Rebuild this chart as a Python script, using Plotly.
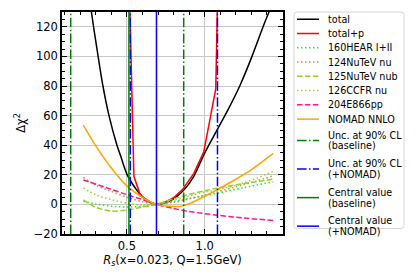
import plotly.graph_objects as go

# ---------------- data ----------------
rs_total = [0.22, 0.272, 0.315, 0.346, 0.385, 0.436, 0.459, 0.50, 0.561, 0.60, 0.65, 0.69,
            0.75, 0.80, 0.86, 0.93, 0.994, 1.078, 1.15, 1.225, 1.30, 1.375, 1.413, 1.44]
chi2_total = [172, 130, 100, 80, 60, 40, 33, 20.5, 10, 5, 1.3, 0,
              1.2, 3.8, 9, 19, 33.5, 50, 64, 80, 99, 120, 130, 137]

rs_totalp = [0.50, 0.545, 0.582, 0.60, 0.65, 0.69, 0.75, 0.80, 0.857, 0.93, 0.994, 1.071, 1.10]
chi2_totalp = [215, 19, 7.5, 5.2, 1.5, 0, 1.8, 4.5, 10, 21, 35.5, 78, 235]

rs_exp = [0.22, 0.30, 0.40, 0.50, 0.60, 0.69, 0.80, 0.90, 1.00, 1.08, 1.25, 1.44]
chi2_hera = [2.2, 0.3, -1.2, -1.8, -1.3, 0, 2, 4, 5.9, 7.6, 11.3, 15.2]
chi2_nutev_nu = [18.3, 13, 8.8, 4.8, 1.8, 0, 1.5, 3.7, 6.3, 8.5, 13.3, 19.3]
chi2_nutev_nub = [3, -2, -4.5, -3.8, -1.8, 0, 3.8, 6.8, 9.2, 11, 14, 17]
chi2_ccfr = [11.2, 6.5, 3.2, 0.8, -0.4, 0, 3, 5.8, 8.3, 9.8, 14.5, 22.3]

rs_e866 = [0.22, 0.39, 0.50, 0.60, 0.69, 0.80, 0.90, 1.08, 1.25, 1.44]
chi2_e866 = [16.5, 10.5, 6.6, 3.3, 0, -2.8, -4.8, -7.3, -9.2, -10.8]

rs_nomad = [0.22, 0.30, 0.39, 0.50, 0.60, 0.69, 0.78, 0.86, 0.95, 1.0, 1.08, 1.2, 1.30, 1.44]
chi2_nomad = [53.5, 39.5, 26, 12.5, 4.8, 0, -1.3, -1, 2.8, 5.5, 10, 17, 23.5, 34.5]

unc_baseline = [0.139, 0.865]
unc_nomad = [0.522, 1.082]
central_baseline = [0.513]
central_nomad = [0.69]

x_tickvals = [0.5, 1.0]
x_ticktext = ["0.5", "1.0"]

legend_labels = ["total", "total+p", "160HEAR I+II", "124NuTeV nu", "125NuTeV nub",
                 "126CCFR nu", "204E866pp", "NOMAD NNLO",
                 "Unc. at 90% CL<br>(baseline)", "Unc. at 90% CL<br>(+NOMAD)",
                 "Central value<br>(baseline)", "Central value<br>(+NOMAD)"]

# ---------------- styles ----------------
FONT = "DejaVu Sans"
LW = 1.5
DOT = "1.5px,2.5px"
DASH = "5.5px,2.4px"
DASHDOT = "9.6px,2.4px,1.5px,2.4px"

series = [
    (rs_total, chi2_total, "black", "solid", "spline"),
    (rs_totalp, chi2_totalp, "red", "solid", "linear"),
    (rs_exp, chi2_hera, "#00ff00", DOT, "spline"),
    (rs_exp, chi2_nutev_nu, "#d08a4c", DOT, "spline"),
    (rs_exp, chi2_nutev_nub, "#9acd32", DASH, "spline"),
    (rs_exp, chi2_ccfr, "#9acd32", DOT, "spline"),
    (rs_e866, chi2_e866, "#ff1493", DASH, "spline"),
    (rs_nomad, chi2_nomad, "#ffa500", "solid", "spline"),
]
vstyles = [
    (unc_baseline, "green", DASHDOT),
    (unc_nomad, "blue", DASHDOT),
    (central_baseline, "green", "solid"),
    (central_nomad, "blue", "solid"),
]

fig = go.Figure()
for xs, ys, col, dash, shape in series:
    fig.add_trace(go.Scatter(x=xs, y=ys, mode="lines",
                             line=dict(color=col, width=LW, dash=dash, shape=shape, smoothing=0.8),
                             showlegend=False, hoverinfo="skip"))

for xs, col, dash in vstyles:
    for xv in xs:
        fig.add_vline(x=xv, line=dict(color=col, width=LW, dash=dash), layer="above")

# ---------------- layout ----------------
# the page body has an 8px margin, so the figure is placed at (8, 8) in the window
OFF = 8
W, H = 404, 264
ML, MT = 62 - OFF, 10 - OFF
PR, PB = 283 - OFF, 234 - OFF
MR, MB = W - PR, H - PB
PW = PR - ML
PH = PB - MT


def px(x):
    return (x - OFF - ML) / PW


def py(y):
    return (PB - (y - OFF)) / PH


axis_common = dict(
    showline=True, linecolor="black", linewidth=1.5, mirror="allticks",
    ticks="inside", ticklen=5, tickwidth=1, tickcolor="black",
    showgrid=True, gridcolor="#c8c8c8", gridwidth=1.2, zeroline=False,
    tickfont=dict(family=FONT, size=11.5, color="black"),
)

fig.update_layout(
    width=W, height=H,
    margin=dict(l=ML, r=MR, t=MT, b=MB),
    paper_bgcolor="white", plot_bgcolor="white",
    showlegend=False,
    font=dict(family=FONT, color="black"),
    xaxis=dict(range=[0.083, 1.503], tickmode="array", tickvals=x_tickvals, ticktext=x_ticktext,
               minor=dict(tickmode="linear", dtick=0.1, tick0=0, ticks="inside", ticklen=3,
                          tickcolor="black", showgrid=False),
               title=dict(text="<i>R<sub>s</sub></i>(x=0.023, Q=1.5GeV)",
                          font=dict(family=FONT, size=11.5), standoff=4),
               **axis_common),
    yaxis=dict(range=[-20, 130], tick0=0, dtick=20,
               minor=dict(dtick=5, tick0=0, ticks="inside", ticklen=3, tickcolor="black", showgrid=False),
               title=dict(text="Δχ<sup>2</sup>", font=dict(family=FONT, size=11.5), standoff=6),
               **axis_common),
)

# ---------------- manual legend (reference-pixel positions) ----------------
bx0, bx1, by0, by1 = 294, 404, 10, 228.5
r = 3
path = (f"M {px(bx0 + r)} {py(by0)} L {px(bx1 - r)} {py(by0)} "
        f"Q {px(bx1)} {py(by0)} {px(bx1)} {py(by0 + r)} "
        f"L {px(bx1)} {py(by1 - r)} Q {px(bx1)} {py(by1)} {px(bx1 - r)} {py(by1)} "
        f"L {px(bx0 + r)} {py(by1)} Q {px(bx0)} {py(by1)} {px(bx0)} {py(by1 - r)} "
        f"L {px(bx0)} {py(by0 + r)} Q {px(bx0)} {py(by0)} {px(bx0 + r)} {py(by0)} Z")
fig.add_shape(type="path", path=path, xref="paper", yref="paper",
              line=dict(color="#d6d6d6", width=1), fillcolor="white", layer="above")

styles = [(s[2], s[3]) for s in series] + [(c, d) for _, c, d in vstyles]
yc = 17.3
prev_lines = 1
for i, (lab, (col, dash)) in enumerate(zip(legend_labels, styles)):
    nlines = lab.count("<br>") + 1
    if i > 0:
        yc += 7.2 * prev_lines + 7.2 * nlines
    fig.add_shape(type="line", xref="paper", yref="paper",
                  x0=px(297), x1=px(319), y0=py(yc), y1=py(yc),
                  line=dict(color=col, width=LW, dash=dash), layer="above")
    parts = lab.split("<br>")
    for k, part in enumerate(parts):
        off = (k - (len(parts) - 1) / 2) * 11.0
        fig.add_annotation(text=part, xref="paper", yref="paper",
                           x=px(326), y=py(yc + off), xanchor="left", yanchor="middle",
                           showarrow=False, font=dict(family=FONT, size=9.6, color="black"))
    prev_lines = nlines

fig.write_html("out.html")
